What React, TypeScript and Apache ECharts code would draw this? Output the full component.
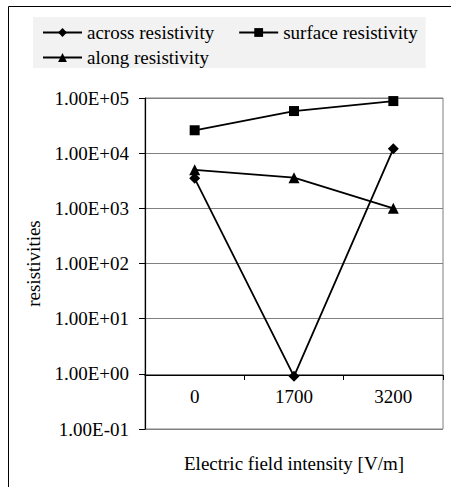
import React, { useEffect, useRef } from "react";
import * as echarts from "echarts";

const categories = ["0", "1700", "3200"];
const acrossValues = [3500, 0.9, 12000];
const surfaceValues = [26000, 58000, 88000];
const alongValues = [5000, 3600, 1000];

const FONT = "'Liberation Serif', 'Times New Roman', serif";
const FS = 19;

function sci(v: number): string {
  const e = Math.round(Math.log10(v));
  const m = v / Math.pow(10, e);
  return m.toFixed(2) + "E" + (e < 0 ? "-" : "+") + String(Math.abs(e)).padStart(2, "0");
}

export default function App() {
  const ref = useRef<HTMLDivElement>(null);
  useEffect(() => {
    if (!ref.current) return;
    const chart = echarts.init(ref.current, null, { renderer: "svg" });
    const lineStyle = { color: "#000", width: 1.8 };
    const txt = { fontFamily: FONT, fontSize: FS, color: "#000" };
    chart.setOption({
      animation: false,
      backgroundColor: "#fff",
      textStyle: { fontFamily: FONT, color: "#000", fontSize: FS },
      graphic: [
        {
          type: "rect",
          z: -10,
          shape: { x: 8.5, y: 6.5, width: 500, height: 500 },
          style: { fill: "none", stroke: "#000", lineWidth: 1 },
        },
      ],
      legend: [
        {
          data: ["across resistivity", "surface resistivity"],
          left: 33,
          top: 17,
          padding: [6, 8, 26, 9],
          backgroundColor: "#f2f2f2",
          itemGap: 24,
          itemWidth: 39,
          itemHeight: 11,
          textStyle: txt,
        },
        {
          data: ["along resistivity"],
          left: 33,
          top: 42,
          padding: [6, 8, 6, 9],
          itemWidth: 39,
          itemHeight: 11,
          textStyle: txt,
        },
      ],
      grid: {
        left: 145,
        right: 8,
        top: 98,
        bottom: 58,
        show: true,
        borderColor: "#808080",
        borderWidth: 1,
        backgroundColor: "#fff",
      },
      xAxis: {
        type: "category",
        data: categories,
        position: "bottom",
        offset: -54,
        boundaryGap: true,
        axisLine: { show: true, lineStyle: { color: "#000", width: 1.2 } },
        axisTick: { show: true, length: 5, inside: false, lineStyle: { color: "#000" } },
        axisLabel: { margin: 12, ...txt },
        splitLine: { show: false },
        name: "Electric field intensity [V/m]",
        nameLocation: "middle",
        nameGap: 79,
        nameTextStyle: txt,
      },
      yAxis: {
        type: "log",
        logBase: 10,
        min: 0.1,
        max: 100000,
        interval: 1,
        axisLine: { show: true, lineStyle: { color: "#000", width: 1.2 } },
        axisTick: { show: true, length: 6, inside: false, lineStyle: { color: "#000" } },
        axisLabel: {
          margin: 16,
          ...txt,
          formatter: (v: number) => sci(v),
        },
        splitLine: { show: true, lineStyle: { color: "#808080", width: 1 } },
        minorTick: { show: false },
        name: "resistivities",
        nameLocation: "middle",
        nameGap: 102,
        nameRotate: 90,
        nameTextStyle: txt,
      },
      series: [
        {
          name: "across resistivity",
          type: "line",
          data: acrossValues,
          symbol: "diamond",
          symbolSize: 11,
          lineStyle,
          itemStyle: { color: "#000" },
          z: 3,
        },
        {
          name: "surface resistivity",
          type: "line",
          data: surfaceValues,
          symbol: "rect",
          symbolSize: 10,
          lineStyle,
          itemStyle: { color: "#000" },
          z: 3,
        },
        {
          name: "along resistivity",
          type: "line",
          data: alongValues,
          symbol: "triangle",
          symbolSize: 11,
          lineStyle,
          itemStyle: { color: "#000" },
          z: 3,
        },
      ],
    });
    return () => chart.dispose();
  }, []);
  return (
    <div
      ref={ref}
      style={{ position: "absolute", left: 0, top: 0, width: 451, height: 487 }}
    />
  );
}
